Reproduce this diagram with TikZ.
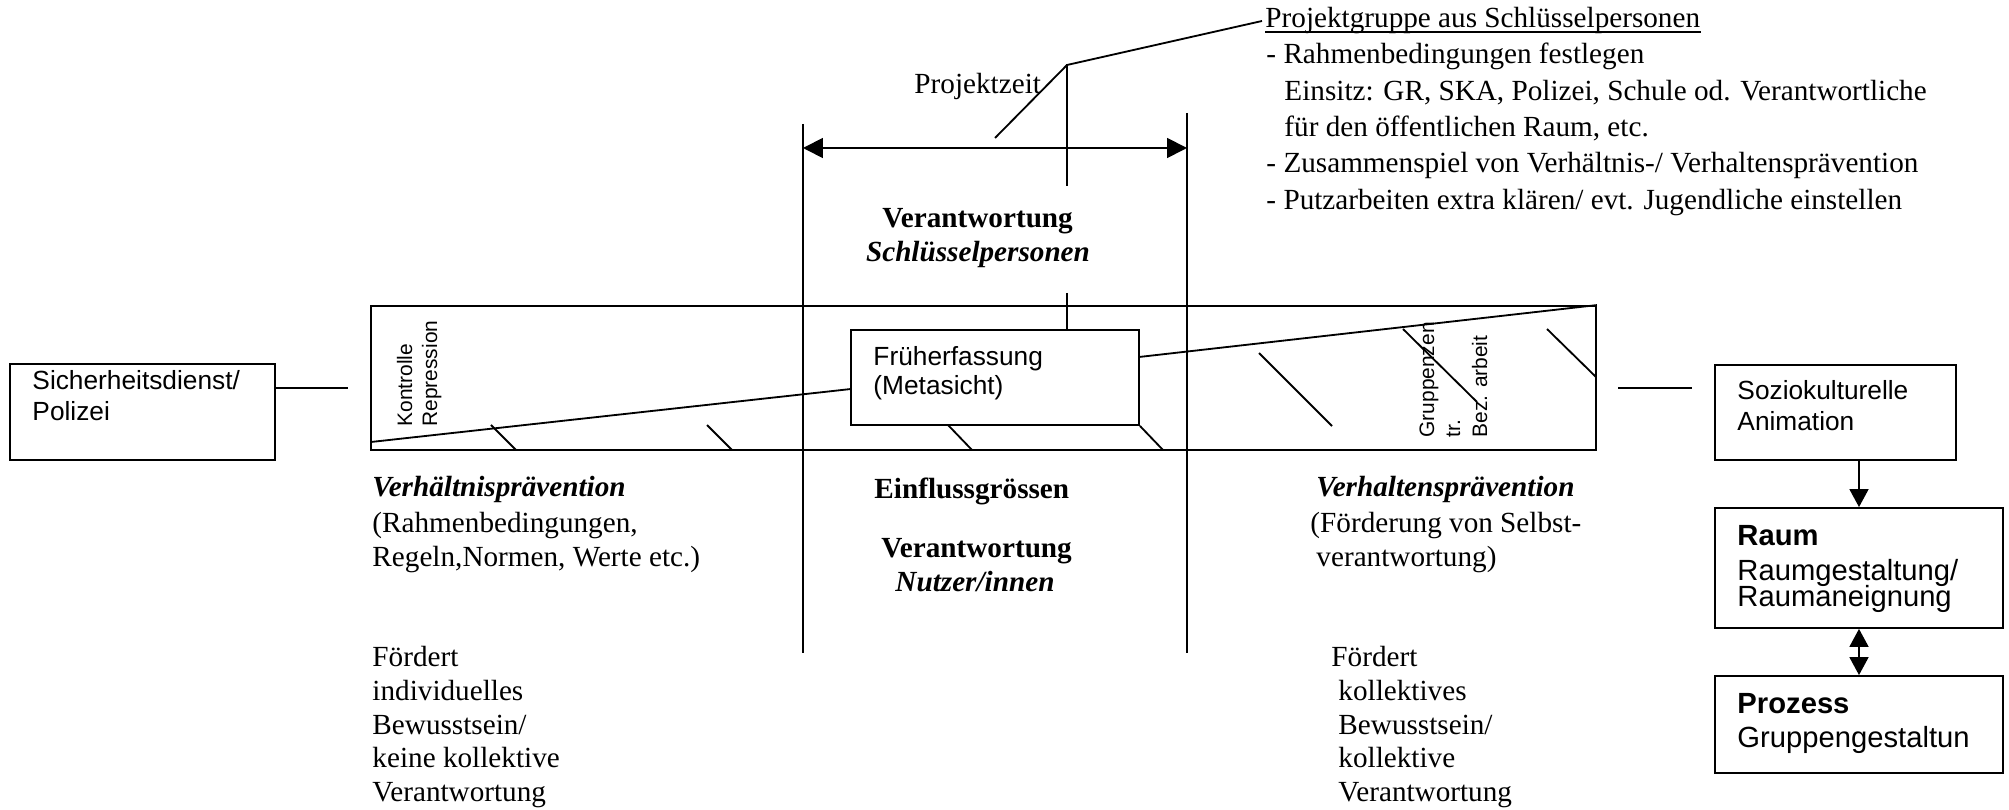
\documentclass[tikz,border=0pt]{standalone}
\usepackage{fontspec}
\setmainfont{Liberation Serif}
\setsansfont{Liberation Sans}
\usetikzlibrary{arrows.meta,fit}
\begin{document}
\begin{tikzpicture}[x=0.411pt,y=-0.411pt,
  ln/.style={line width=0.75pt},
  box/.style={draw,line width=0.75pt,inner sep=0pt},
  tx/.style={inner sep=0pt,anchor=base west,font=\fontsize{12}{13.8}\selectfont},
  txb/.style={inner sep=0pt,anchor=base west,font=\fontsize{12}{13.8}\selectfont\bfseries},
  txbi/.style={inner sep=0pt,anchor=base west,font=\fontsize{12}{13.8}\selectfont\bfseries\itshape},
  sf/.style={inner sep=0pt,anchor=base west,font=\sffamily\fontsize{10.8}{12.4}\selectfont},
  sfl/.style={inner sep=0pt,anchor=base west,font=\sffamily\fontsize{12}{13.8}\selectfont},
  sflb/.style={inner sep=0pt,anchor=base west,font=\sffamily\fontsize{12}{13.8}\selectfont\bfseries},
  rot/.style={inner sep=0pt,anchor=base west,rotate=90,font=\sffamily\fontsize{8.6}{10}\selectfont},
  tipb/.style={{Triangle[length=8.2pt,width=8.2pt]}-{Triangle[length=8.2pt,width=8.2pt]}},
  tipc/.style={-{Triangle[length=7.4pt,width=7.8pt]}},
  tipd/.style={{Triangle[length=7.4pt,width=7.8pt]}-{Triangle[length=7.4pt,width=7.8pt]}}
]
\useasboundingbox (0,0) rectangle (2009,810);

% boxes
\node[box,fit={(10,364)(275,460)}] (sd) {};
\node[box,fit={(371,306)(1596,450)}] (band) {};
\node[box,fit={(851,330)(1139,425)}] (fe) {};
\node[box,fit={(1715,365)(1956,460)}] (sk) {};
\node[box,fit={(1715,508)(2003,628)}] (raum) {};
\node[box,fit={(1715,676)(2003,773)}] (proz) {};

% coordinates
\coordinate (vlT) at (803,124);
\coordinate (vlB) at (803,653);
\coordinate (vrT) at (1187,113);
\coordinate (vrB) at (1187,653);
\coordinate (pzL) at (803,148);
\coordinate (pzR) at (1187,148);
\coordinate (mT) at (1067,65);
\coordinate (mB) at (1067,186);
\coordinate (pzD) at (995,138);
\coordinate (pgL) at (1262,21);
\coordinate (feTop) at (1067,293);
\coordinate (feTb) at (1067,330);
\coordinate (dL) at (371,442);
\coordinate (feL) at (851,389);
\coordinate (feR) at (1139,357);
\coordinate (sdA) at (275,388);
\coordinate (sdB) at (348,388);
\coordinate (skA) at (1618,388);
\coordinate (skB) at (1692,388);

% vertical lines and Projektzeit
\draw[ln] (vlT) -- (vlB);
\draw[ln] (vrT) -- (vrB);
\draw[ln,tipb] (pzL) -- (pzR);
\draw[ln] (mB) -- (mT) -- (pgL);
\draw[ln] (pzD) -- (mT);
\draw[ln] (feTop) -- (feTb);

% diagonals
\draw[ln] (dL) -- (feL);
\draw[ln] (feR) -- (band.north east);

% hatches
\draw[ln] (491,425) -- (516,450);
\draw[ln] (707,425) -- (732,450);
\draw[ln] (948,425) -- (972,450);
\draw[ln] (fe.south east) -- (1163,450);
\draw[ln] (1259,353) -- (1332,426);
\draw[ln] (1403,329) -- (1477,402);
\draw[ln] (1547,329) -- (1596,377);

% side lines
\draw[ln] (sdA) -- (sdB);
\draw[ln] (skA) -- (skB);

% arrows on the right
\draw[ln,tipc] (raum.north |- sk.south) -- (raum.north);
\draw[ln,tipd] (raum.south) -- (proz.north);

% texts in boxes
\node[sf] (t1) at (32,390) {Sicherheitsdienst/};
\node[sf] (t2) at (32,421) {Polizei};
\node[sf] (t3) at (873,366) {Früherfassung};
\node[sf] (t4) at (873,395) {(Metasicht)};
\node[sf] (t5) at (1737,400) {Soziokulturelle};
\node[sf] (t6) at (1737,431) {Animation};
\node[sflb] (t7) at (1737,546) {Raum};
\node[sfl] (t8) at (1737,581) {Raumgestaltung/};
\node[sfl] (t9) at (1737,607) {Raumaneignung};
\node[sflb] (t10) at (1737,714) {Prozess};
\node[sfl] (t11) at (1737,748) {Gruppengestaltun};

% rotated texts
\node[rot] (r1) at (412,427) {Kontrolle};
\node[rot] (r2) at (437,427) {Repression};
\node[rot] (r3) at (1434,438) {Gruppenzen};
\node[rot] (r4) at (1460,438) {tr.};
\node[rot] (r5) at (1487,438) {Bez. arbeit};

% top texts
\node[tx] (pz) at (914,94) {Projektzeit};
\node[txb] (v1) at (882,228) {Verantwortung};
\node[txbi,anchor=base] (v2) at (978,262) {Schlüsselpersonen};
\node[tx] (p1) at (1265,28) {Projektgruppe aus Schlüsselpersonen};
\draw[ln] ([yshift=-1.6pt]p1.base west) -- ([yshift=-1.6pt]p1.base east);
\node[tx] (p2) at (1266,64) {- Rahmenbedingungen festlegen};
\node[tx] (p3) at (1284,100.5) {Einsitz: GR, SKA, Polizei, Schule od. Verantwortliche};
\node[tx] (p4) at (1284,137) {für den öffentlichen Raum, etc.};
\node[tx] (p5) at (1266,173) {- Zusammenspiel von Verhältnis-/ Verhaltensprävention};
\node[tx] (p6) at (1266,209.5) {- Putzarbeiten extra klären/ evt. Jugendliche einstellen};

% bottom left
\node[txbi] (a1) at (372,497) {Verhältnisprävention};
\node[tx] (a2) at (372,533) {(Rahmenbedingungen,};
\node[tx] (a3) at (372,567) {Regeln,Normen, Werte etc.)};
\node[tx] (a4) at (372,667) {Fördert};
\node[tx] (a5) at (372,701) {individuelles};
\node[tx] (a6) at (372,735) {Bewusstsein/};
\node[tx] (a7) at (372,768) {keine kollektive};
\node[tx] (a8) at (372,802) {Verantwortung};

% bottom middle
\node[txb] (b1) at (874,499) {Einflussgrössen};
\node[txb] (b2) at (881,558) {Verantwortung};
\node[txbi] (b3) at (895,592) {Nutzer/innen};

% bottom right
\node[txbi] (c1) at (1316,497) {Verhaltensprävention};
\node[tx] (c2) at (1310,533) {(Förderung von Selbst-};
\node[tx] (c3) at (1316,567) {verantwortung)};
\node[tx] (c4) at (1331,667) {Fördert};
\node[tx] (c5) at (1338,701) {kollektives};
\node[tx] (c6) at (1338,735) {Bewusstsein/};
\node[tx] (c7) at (1338,768) {kollektive};
\node[tx] (c8) at (1338,802) {Verantwortung};
\end{tikzpicture}
\end{document}
